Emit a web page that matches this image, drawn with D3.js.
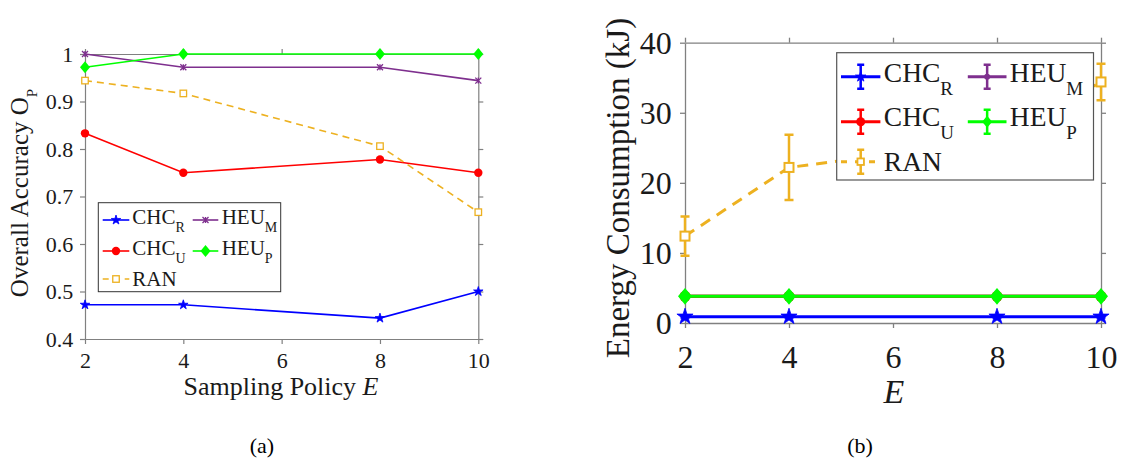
<!DOCTYPE html>
<html><head><meta charset="utf-8">
<script src="https://cdn.jsdelivr.net/npm/d3@7"></script>
<style>body{margin:0;background:#fff}</style>
</head><body><svg id="c" width="1126" height="466"></svg>
<script>
// ---------- data ----------
const E = [2, 4, 8, 10];
const xTicks = [2, 4, 6, 8, 10];
const accTicks = [0.4, 0.5, 0.6, 0.7, 0.8, 0.9, 1];
const accTickLabels = ["0.4", "0.5", "0.6", "0.7", "0.8", "0.9", "1"];
const energyTicks = [0, 10, 20, 30, 40];
const energyTickLabels = ["0", "10", "20", "30", "40"];

const seriesKeys = ["CHC_R", "HEU_M", "CHC_U", "HEU_P", "RAN"];
const seriesMain = ["CHC", "HEU", "CHC", "HEU", "RAN"];
const seriesSub = ["R", "M", "U", "P", ""];

const accCHC_R = [0.472, 0.472, 0.444, 0.5];
const accHEU_M = [1, 0.972, 0.972, 0.944];
const accCHC_U = [0.833, 0.75, 0.778, 0.75];
const accHEU_P = [0.972, 1, 1, 1];
const accRAN = [0.944, 0.917, 0.806, 0.667];

const energyCHC_R = [0.9, 0.9, 0.9, 0.9];
const energyHEU_M = [3.8, 3.8, 3.8, 3.8];
const energyCHC_U = [3.8, 3.8, 3.8, 3.8];
const energyHEU_P = [3.8, 3.8, 3.8, 3.8];
const energyRAN = [12.4, 22.2, 26.0, 34.4];
const errCHC_R = [0.1, 0.1, 0.1, 0.1];
const errHEU_M = [0.1, 0.1, 0.1, 0.1];
const errCHC_U = [0.1, 0.1, 0.1, 0.1];
const errHEU_P = [0.1, 0.1, 0.1, 0.1];
const errRAN = [2.8, 4.65, 3.0, 2.6];

// ---------- styles ----------
const FONT = "Liberation Serif";
const colors = {CHC_R: "#0000ff", HEU_M: "#7e2f8e", CHC_U: "#ff0000", HEU_P: "#00ff00", RAN: "#edb120"};
const markers = {CHC_R: "star", HEU_M: "x", CHC_U: "circle", HEU_P: "diamond", RAN: "square"};
const rightMarkers = {CHC_R: "star", HEU_M: "dot", CHC_U: "circle", HEU_P: "diamond", RAN: "square"};
const axisColor = "#808080";
const textColor = "#1a1a1a";

const svg = d3.select("#c").attr("font-family", FONT);
svg.append("rect").attr("width", 1126).attr("height", 466).attr("fill", "#fff");

function drawMarker(g, type, cx, cy, s, color, sw) {
  if (type === "star") {
    g.append("path").attr("d", d3.symbol(d3.symbolStar, s * s * 0.28)())
      .attr("transform", `translate(${cx},${cy})`).attr("fill", color).attr("stroke", color).attr("stroke-width", 0.8);
  } else if (type === "circle" || type === "dot") {
    g.append("circle").attr("cx", cx).attr("cy", cy).attr("r", s / 2).attr("fill", color);
  } else if (type === "diamond") {
    const w = s / 2, h = s * 0.6;
    g.append("path").attr("d", `M${cx},${cy - h}L${cx + w},${cy}L${cx},${cy + h}L${cx - w},${cy}Z`).attr("fill", color);
  } else if (type === "square") {
    g.append("rect").attr("x", cx - s / 2).attr("y", cy - s / 2).attr("width", s).attr("height", s)
      .attr("fill", "#fff").attr("stroke", color).attr("stroke-width", sw);
  } else if (type === "x") {
    const h = s / 2;
    g.append("path").attr("d", `M${cx - h},${cy - h}L${cx + h},${cy + h}M${cx - h},${cy + h}L${cx + h},${cy - h}M${cx},${cy - h}L${cx},${cy + h}`)
      .attr("stroke", color).attr("stroke-width", sw).attr("fill", "none");
  }
}

function subText(g, x, y, main, sub, fs, subfs, subdy) {
  const t = g.append("text").attr("x", x).attr("y", y).attr("font-size", fs).attr("fill", textColor)
    .attr("font-family", FONT);
  t.append("tspan").text(main);
  if (sub) t.append("tspan").attr("dy", subdy).attr("font-size", subfs).text(sub);
  return t;
}

function drawAxes(g, x, y, yTicks, yLabels, cfg) {
  const [x0, x1] = x.range();
  const [y0, y1] = y.range();
  const style = sel => {
    sel.attr("font-family", FONT);
    sel.select(".domain").attr("stroke", axisColor).attr("stroke-width", cfg.axW);
    sel.selectAll(".tick line").attr("stroke", axisColor).attr("stroke-width", cfg.axW);
    sel.selectAll(".tick text").attr("fill", textColor).attr("font-size", cfg.tickFs).attr("font-family", FONT);
  };
  const bx = g.append("g").attr("transform", `translate(0,${y0})`)
    .call(d3.axisBottom(x).tickValues(xTicks).tickSize(5).tickSizeOuter(0).tickFormat(d => String(d)));
  style(bx);
  bx.selectAll(".tick text").attr("y", cfg.xLabY).attr("dy", 0);
  const tx = g.append("g").attr("transform", `translate(0,${y1})`)
    .call(d3.axisTop(x).tickValues(xTicks).tickSize(5).tickSizeOuter(0).tickFormat(() => ""));
  style(tx);
  const ly = g.append("g").attr("transform", `translate(${x0},0)`)
    .call(d3.axisLeft(y).tickValues(yTicks).tickSize(5).tickSizeOuter(0).tickFormat((d, i) => yLabels[i]));
  style(ly);
  ly.selectAll(".tick text").attr("x", -cfg.yLabX).attr("dy", "0.34em");
  const ry = g.append("g").attr("transform", `translate(${x1},0)`)
    .call(d3.axisRight(y).tickValues(yTicks).tickSize(5).tickSizeOuter(0).tickFormat(() => ""));
  style(ry);
}

// ---------- panel (a) ----------
{
  const g = svg.append("g");
  const x = d3.scaleLinear().domain([2, 10]).range([85, 478.3]);
  const y = d3.scaleLinear().domain([0.4, 1]).range([339, 54]);
  drawAxes(g, x, y, accTicks, accTickLabels, {axW: 1.2, tickFs: 22, xLabY: 29, yLabX: 11.7});
  const data = {CHC_R: accCHC_R, HEU_M: accHEU_M, CHC_U: accCHC_U, HEU_P: accHEU_P, RAN: accRAN};
  const msize = {CHC_R: 10, HEU_M: 6, CHC_U: 8.4, HEU_P: 10, RAN: 6.5};
  const line = d3.line().x((d, i) => x(E[i])).y(d => y(d));
  seriesKeys.forEach(k => {
    g.append("path").datum(data[k]).attr("d", line).attr("fill", "none").attr("stroke", colors[k])
      .attr("stroke-width", 1.6).attr("stroke-dasharray", k === "RAN" ? "7,5" : null);
    data[k].forEach((v, i) => drawMarker(g, markers[k], x(E[i]), y(v), msize[k], colors[k], 1.3));
  });
  // legend
  const lg = g.append("g");
  lg.append("rect").attr("x", 98.3).attr("y", 202.7).attr("width", 182.4).attr("height", 89)
    .attr("fill", "#fff").attr("stroke", "#333").attr("stroke-width", 1);
  const cols = [{l0: 102.7, l1: 129.3, tx: 132.3}, {l0: 192.7, l1: 218.3, tx: 221.7}];
  const rows = [{ly: 220, ty: 224}, {ly: 251, ty: 255}, {ly: 279, ty: 286}];
  const pos = [[0, 0], [1, 0], [0, 1], [1, 1], [0, 2]];
  seriesKeys.forEach((k, i) => {
    const c = cols[pos[i][0]], r = rows[pos[i][1]];
    lg.append("line").attr("x1", c.l0).attr("x2", c.l1).attr("y1", r.ly).attr("y2", r.ly)
      .attr("stroke", colors[k]).attr("stroke-width", 1.6).attr("stroke-dasharray", k === "RAN" ? "6,5" : null);
    drawMarker(lg, markers[k], (c.l0 + c.l1) / 2, r.ly, msize[k], colors[k], 1.3);
    subText(lg, c.tx, r.ty, seriesMain[i], seriesSub[i], 21, 14, 8);
  });
  // axis labels
  const yl = g.append("text").attr("transform", "translate(28,193) rotate(-90)").attr("text-anchor", "middle")
    .attr("font-size", 25).attr("fill", textColor).attr("font-family", FONT);
  yl.append("tspan").text("Overall Accuracy O");
  yl.append("tspan").attr("dy", 9).attr("font-size", 15).text("P");
  const xl = g.append("text").attr("x", 281).attr("y", 395).attr("text-anchor", "middle")
    .attr("font-size", 26).attr("fill", textColor).attr("font-family", FONT);
  xl.append("tspan").text("Sampling Policy ");
  xl.append("tspan").attr("font-style", "italic").text("E");
  g.append("text").attr("x", 262).attr("y", 453).attr("text-anchor", "middle").attr("font-size", 22)
    .attr("font-family", FONT).attr("fill", "#000").text("(a)");
}

// ---------- panel (b) ----------
{
  const g = svg.append("g");
  const x = d3.scaleLinear().domain([2, 10]).range([685, 1101]);
  const y = d3.scaleLinear().domain([0, 40]).range([323, 42.7]);
  drawAxes(g, x, y, energyTicks, energyTickLabels, {axW: 1.3, tickFs: 32, xLabY: 45, yLabX: 13.3});
  const data = {CHC_R: energyCHC_R, HEU_M: energyHEU_M, CHC_U: energyCHC_U, HEU_P: energyHEU_P, RAN: energyRAN};
  const errs = {CHC_R: errCHC_R, HEU_M: errHEU_M, CHC_U: errCHC_U, HEU_P: errHEU_P, RAN: errRAN};
  const msize = {CHC_R: 17, HEU_M: 6, CHC_U: 11, HEU_P: 14, RAN: 9};
  const line = d3.line().x((d, i) => x(E[i])).y(d => y(d));
  seriesKeys.forEach(k => {
    g.append("path").datum(data[k]).attr("d", line).attr("fill", "none").attr("stroke", colors[k])
      .attr("stroke-width", 3).attr("stroke-dasharray", k === "RAN" ? "11,8" : null);
    data[k].forEach((v, i) => {
      const cx = x(E[i]), ya = y(v - errs[k][i]), yb = y(v + errs[k][i]);
      g.append("path").attr("d", `M${cx},${ya}L${cx},${yb}M${cx - 4.5},${ya}L${cx + 4.5},${ya}M${cx - 4.5},${yb}L${cx + 4.5},${yb}`)
        .attr("stroke", colors[k]).attr("stroke-width", 2.5).attr("fill", "none");
      drawMarker(g, rightMarkers[k], cx, y(v), msize[k], colors[k], 2);
    });
  });
  // legend
  const lg = g.append("g");
  lg.append("rect").attr("x", 836.7).attr("y", 52.7).attr("width", 256.8).attr("height", 127.3)
    .attr("fill", "#fff").attr("stroke", "#555").attr("stroke-width", 1.2);
  const cols = [{l0: 841, l1: 880.4, tx: 883.8}, {l0: 967.8, l1: 1006.5, tx: 1009.8}];
  const rows = [{ly: 76.7, ty: 82}, {ly: 121.7, ty: 125.5}, {ly: 161.7, ty: 171}];
  const pos = [[0, 0], [1, 0], [0, 1], [1, 1], [0, 2]];
  const lsize = {CHC_R: 11, HEU_M: 6, CHC_U: 9, HEU_P: 10, RAN: 6.5};
  seriesKeys.forEach((k, i) => {
    const c = cols[pos[i][0]], r = rows[pos[i][1]];
    const cx = (c.l0 + c.l1) / 2;
    lg.append("line").attr("x1", c.l0).attr("x2", c.l1).attr("y1", r.ly).attr("y2", r.ly)
      .attr("stroke", colors[k]).attr("stroke-width", 3).attr("stroke-dasharray", k === "RAN" ? "6,8" : null);
    lg.append("path").attr("d", `M${cx},${r.ly - 12}L${cx},${r.ly + 12}M${cx - 3.5},${r.ly - 12}L${cx + 3.5},${r.ly - 12}M${cx - 3.5},${r.ly + 12}L${cx + 3.5},${r.ly + 12}`)
      .attr("stroke", colors[k]).attr("stroke-width", 2.5).attr("fill", "none");
    drawMarker(lg, rightMarkers[k], cx, r.ly, lsize[k], colors[k], 1.8);
    subText(lg, c.tx, r.ty, seriesMain[i], seriesSub[i], 27.5, 19, 13);
  });
  g.append("text").attr("transform", "translate(629,188) rotate(-90)").attr("text-anchor", "middle")
    .attr("font-family", FONT).attr("font-size", 33).attr("fill", textColor).text("Energy Consumption (kJ)");
  g.append("text").attr("x", 894).attr("y", 403).attr("text-anchor", "middle").attr("font-size", 34)
    .attr("font-family", FONT).attr("font-style", "italic").attr("fill", textColor).text("E");
  g.append("text").attr("x", 860).attr("y", 453).attr("text-anchor", "middle").attr("font-size", 22)
    .attr("font-family", FONT).attr("fill", "#000").text("(b)");
}
</script></body></html>
